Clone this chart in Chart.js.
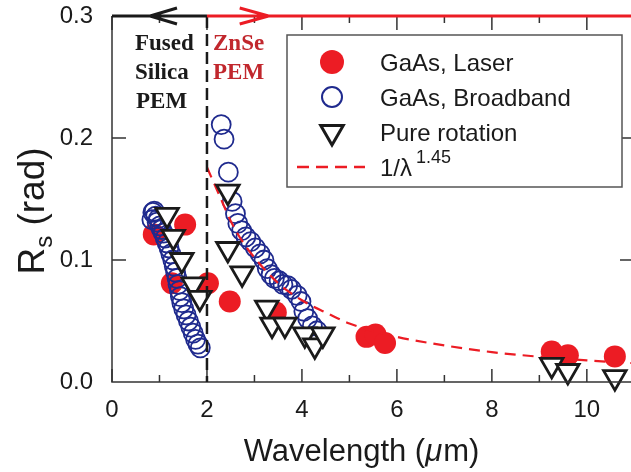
<!DOCTYPE html>
<html>
<head>
<meta charset="utf-8">
<title>Rs vs wavelength</title>
<script src="https://cdn.jsdelivr.net/npm/chart.js@4.4.1/dist/chart.umd.min.js"></script>
<style>
    html, body { margin: 0; padding: 0; background: #fff; }
    #wrap { width: 631px; height: 472px; }
</style>
</head>
<body>
<div id="wrap"><canvas id="rsChart"></canvas></div>
<script>
// GaAs, Laser (filled red)
const laserX = [0.88, 1.26, 1.54, 2.02, 2.48, 3.45, 5.36, 5.55, 5.75, 9.26, 9.6, 10.59];
const laserY = [0.121, 0.081, 0.129, 0.081, 0.066, 0.057, 0.037, 0.039, 0.032, 0.025, 0.022, 0.021];

// GaAs, Broadband (open blue circles)
const broadX = [0.84, 0.86, 0.89, 0.92, 0.95, 0.98, 1.01, 1.04, 1.08, 1.12, 1.16, 1.2, 1.24, 1.28, 1.31,
    1.34, 1.37, 1.39, 1.42, 1.44, 1.47, 1.51, 1.56, 1.61, 1.66, 1.71, 1.76, 1.81, 1.86,
    2.30, 2.36, 2.45, 2.53, 2.60, 2.65, 2.73, 2.82, 2.92, 3.02, 3.12, 3.20, 3.27, 3.35, 3.42,
    3.52, 3.60, 3.70, 3.78, 3.90, 3.98, 4.04, 4.12, 4.22, 4.32];
const broadY = [0.133, 0.139, 0.140, 0.136, 0.131, 0.134, 0.128, 0.125, 0.122, 0.118, 0.114, 0.110, 0.105, 0.100, 0.095,
    0.090, 0.085, 0.080, 0.075, 0.070, 0.065, 0.060, 0.055, 0.050, 0.045, 0.040, 0.035, 0.031, 0.028,
    0.211, 0.199, 0.172, 0.148, 0.138, 0.130, 0.124, 0.119, 0.115, 0.110, 0.105, 0.100, 0.093, 0.088, 0.085,
    0.083, 0.080, 0.079, 0.076, 0.071, 0.066, 0.058, 0.052, 0.046, 0.042];

// Pure rotation (open triangles)
const rotX = [1.16, 1.29, 1.47, 1.71, 1.85, 2.44, 2.44, 2.74, 3.26, 3.37, 3.64, 4.06, 4.27, 4.44, 9.26, 9.6, 10.59];
const rotY = [0.137, 0.119, 0.100, 0.080, 0.069, 0.156, 0.109, 0.089, 0.061, 0.047, 0.047, 0.039, 0.030, 0.039, 0.014, 0.009, 0.004];

// 1/lambda^1.45 curve
const fitX = [2.0, 2.25, 2.5, 2.75, 3, 3.5, 4, 4.5, 5, 6, 7, 8, 9, 10, 11];
const fitY = [0.176, 0.154, 0.132, 0.115, 0.102, 0.081, 0.067, 0.057, 0.048, 0.037, 0.030, 0.0245, 0.0207, 0.0177, 0.0154];

const xTickValues = [0, 2, 4, 6, 8, 10];
const xMinorValues = [1, 3, 5, 7, 9];
const yTickValues = [0, 0.1, 0.2, 0.3];

const RED = '#ec1c24';
const BLUE = '#1f2a8e';
const DARK = '#1a1a1a';
const SANS = '"Liberation Sans", Arial, sans-serif';
const SERIF = '"Liberation Serif", "Times New Roman", serif';

function toPoints(xs, ys) {
    return xs.map((x, i) => ({ x: x, y: ys[i] }));
}

const decorPlugin = {
    id: 'decor',
    afterDatasetsDraw(chart) {
        const ctx = chart.ctx;
        const a = chart.chartArea;
        const xs = chart.scales.x;
        const ys = chart.scales.y;
        ctx.save();

        // left and bottom axis lines
        ctx.strokeStyle = '#333';
        ctx.lineWidth = 1.5;
        ctx.beginPath();
        ctx.moveTo(a.left, a.top);
        ctx.lineTo(a.left, a.bottom);
        ctx.lineTo(a.right, a.bottom);
        ctx.stroke();

        // inward ticks
        ctx.lineWidth = 1.5;
        ctx.beginPath();
        xTickValues.forEach(v => {
            const px = xs.getPixelForValue(v);
            ctx.moveTo(px, a.bottom); ctx.lineTo(px, a.bottom - 13);
            ctx.moveTo(px, a.top); ctx.lineTo(px, a.top + 14);
        });
        xMinorValues.forEach(v => {
            const px = xs.getPixelForValue(v);
            ctx.moveTo(px, a.bottom); ctx.lineTo(px, a.bottom - 7);
            ctx.moveTo(px, a.top); ctx.lineTo(px, a.top + 7);
        });
        [0.1, 0.2].forEach(v => {
            const py = ys.getPixelForValue(v);
            ctx.moveTo(a.left, py); ctx.lineTo(a.left + 14, py);
            ctx.moveTo(a.right, py); ctx.lineTo(a.right - 11, py);
        });
        ctx.stroke();

        // vertical dashed divider at 2 um
        const x2 = xs.getPixelForValue(2);
        ctx.strokeStyle = DARK;
        ctx.lineWidth = 2.5;
        ctx.setLineDash([12, 6]);
        ctx.beginPath();
        ctx.moveTo(x2, a.top);
        ctx.lineTo(x2, a.bottom);
        ctx.stroke();
        ctx.setLineDash([]);

        // top line: black to the left, red to the right, with arrow heads
        ctx.lineWidth = 3;
        ctx.strokeStyle = DARK;
        ctx.beginPath();
        ctx.moveTo(a.left, a.top);
        ctx.lineTo(x2, a.top);
        const tipL = xs.getPixelForValue(0.8);
        ctx.moveTo(tipL + 27, a.top - 8);
        ctx.lineTo(tipL, a.top);
        ctx.lineTo(tipL + 27, a.top + 8);
        ctx.stroke();

        ctx.strokeStyle = RED;
        ctx.beginPath();
        ctx.moveTo(x2, a.top);
        ctx.lineTo(chart.width + 5, a.top);
        const tipR = xs.getPixelForValue(3.3);
        ctx.moveTo(tipR - 29, a.top - 8);
        ctx.lineTo(tipR, a.top);
        ctx.lineTo(tipR - 29, a.top + 8);
        ctx.stroke();

        // region labels
        ctx.font = 'bold 23px ' + SERIF;
        ctx.textAlign = 'left';
        ctx.textBaseline = 'alphabetic';
        ctx.fillStyle = DARK;
        ctx.fillText('Fused', 135, 50);
        ctx.fillText('Silica', 135, 79);
        ctx.fillText('PEM', 136, 108);
        ctx.fillStyle = '#c1272d';
        ctx.fillText('ZnSe', 213, 50);
        ctx.fillText('PEM', 213, 79);

        ctx.restore();
    },
    afterDraw(chart) {
        const ctx = chart.ctx;
        ctx.save();

        // axis titles
        ctx.fillStyle = DARK;
        ctx.textBaseline = 'alphabetic';
        ctx.textAlign = 'left';
        ctx.font = '31px ' + SANS;
        const t1 = 'Wavelength (';
        const t2 = '\u03bc';
        const t3 = 'm)';
        const w1 = ctx.measureText(t1).width;
        ctx.font = 'italic 31px ' + SANS;
        const w2 = ctx.measureText(t2).width;
        ctx.font = '31px ' + SANS;
        const w3 = ctx.measureText(t3).width;
        let tx = 361 - (w1 + w2 + w3) / 2;
        ctx.fillText(t1, tx, 461);
        ctx.font = 'italic 31px ' + SANS;
        ctx.fillText(t2, tx + w1, 461);
        ctx.font = '31px ' + SANS;
        ctx.fillText(t3, tx + w1 + w2 + 1, 461);

        ctx.translate(44, 211);
        ctx.rotate(-Math.PI / 2);
        ctx.font = '37px ' + SANS;
        const wR = ctx.measureText('R').width;
        ctx.font = '24px ' + SANS;
        const wS = ctx.measureText('s').width;
        ctx.font = '37px ' + SANS;
        const wRad = ctx.measureText(' (rad)').width;
        let ry = -(wR + wS + wRad) / 2;
        ctx.fillText('R', ry, 0);
        ctx.font = '24px ' + SANS;
        ctx.fillText('s', ry + wR, 8);
        ctx.font = '37px ' + SANS;
        ctx.fillText(' (rad)', ry + wR + wS, 0);
        ctx.setTransform(1, 0, 0, 1, 0, 0);

        // legend box
        ctx.fillStyle = '#fff';
        ctx.strokeStyle = '#555';
        ctx.lineWidth = 1.5;
        ctx.fillRect(287, 35, 335, 152);
        ctx.strokeRect(287, 35, 335, 152);

        const mx = 332;
        const rows = [62, 97, 132, 167];
        ctx.fillStyle = RED;
        ctx.strokeStyle = RED;
        Chart.helpers.drawPoint(ctx, { pointStyle: 'circle', radius: 12, borderWidth: 0, rotation: 0 }, mx, rows[0]);
        ctx.fillStyle = 'rgba(0,0,0,0)';
        ctx.strokeStyle = BLUE;
        ctx.lineWidth = 2;
        Chart.helpers.drawPoint(ctx, { pointStyle: 'circle', radius: 10, borderWidth: 2, rotation: 0 }, mx, rows[1]);
        ctx.fillStyle = '#fff';
        ctx.strokeStyle = DARK;
        ctx.lineWidth = 3;
        Chart.helpers.drawPoint(ctx, { pointStyle: 'triangle', radius: 13, borderWidth: 3, rotation: 180 }, mx, rows[2]);

        ctx.strokeStyle = RED;
        ctx.lineWidth = 2.5;
        ctx.setLineDash([12, 7]);
        ctx.beginPath();
        ctx.moveTo(297, rows[3]);
        ctx.lineTo(365, rows[3]);
        ctx.stroke();
        ctx.setLineDash([]);

        ctx.fillStyle = DARK;
        ctx.font = '24px ' + SANS;
        ctx.textAlign = 'left';
        ctx.fillText('GaAs, Laser', 380, rows[0] + 9);
        ctx.fillText('GaAs, Broadband', 380, rows[1] + 9);
        ctx.fillText('Pure rotation', 380, rows[2] + 9);
        ctx.fillText('1/\u03bb', 380, rows[3] + 9);
        const wl = ctx.measureText('1/\u03bb').width;
        ctx.font = '18px ' + SANS;
        ctx.fillText('1.45', 380 + wl + 4, rows[3] - 4);

        ctx.restore();
    }
};

document.addEventListener('DOMContentLoaded', () => {
    function initRsChart() {
        const canvas = document.getElementById('rsChart');
        if (!canvas) {
            return;
        }

        new Chart(canvas, {
            type: 'scatter',
            data: {
                datasets: [{
                    label: 'GaAs, Laser',
                    data: toPoints(laserX, laserY),
                    pointStyle: 'circle',
                    pointRadius: 11,
                    backgroundColor: RED,
                    borderColor: RED,
                    borderWidth: 0,
                    clip: false,
                    order: 3,
                }, {
                    label: 'GaAs, Broadband',
                    data: toPoints(broadX, broadY),
                    pointStyle: 'circle',
                    pointRadius: 9.5,
                    backgroundColor: 'rgba(0,0,0,0)',
                    borderColor: BLUE,
                    borderWidth: 1.8,
                    clip: false,
                    order: 2,
                }, {
                    label: 'Pure rotation',
                    data: toPoints(rotX, rotY),
                    pointStyle: 'triangle',
                    rotation: 180,
                    pointRadius: 13,
                    backgroundColor: '#fff',
                    borderColor: DARK,
                    borderWidth: 2.8,
                    clip: false,
                    order: 0,
                }, {
                    type: 'line',
                    label: '1/\u03bb^1.45',
                    data: toPoints(fitX, fitY),
                    borderColor: RED,
                    borderWidth: 2.2,
                    borderDash: [11, 7],
                    pointRadius: 0,
                    cubicInterpolationMode: 'monotone',
                    fill: false,
                    clip: false,
                    order: 1,
                }]
            },
            options: {
                responsive: true,
                maintainAspectRatio: false,
                animation: false,
                devicePixelRatio: 1,
                events: [],
                layout: {
                    autoPadding: false,
                    padding: { left: 0, top: 16, right: 0, bottom: 0 }
                },
                scales: {
                    x: {
                        type: 'linear',
                        min: 0,
                        max: 10.93,
                        // tick marks themselves are drawn inward by the plugin;
                        // tickLength only offsets the labels
                        grid: { display: false, drawTicks: true, tickLength: 14 },
                        border: { display: false },
                        afterBuildTicks: (scale) => {
                            scale.ticks = xTickValues.map(v => ({ value: v }));
                        },
                        afterFit: (scale) => {
                            scale.height = 90;
                        },
                        ticks: {
                            color: DARK,
                            padding: 0,
                            font: { family: SANS, size: 24 },
                            callback: (value) => String(value)
                        }
                    },
                    y: {
                        min: 0,
                        max: 0.3,
                        grid: { display: false, drawTicks: true, tickLength: 19 },
                        border: { display: false },
                        afterBuildTicks: (scale) => {
                            scale.ticks = yTickValues.map(v => ({ value: v }));
                        },
                        afterFit: (scale) => {
                            scale.width = 112;
                        },
                        ticks: {
                            color: DARK,
                            padding: 0,
                            font: { family: SANS, size: 24 },
                            callback: (value) => Number(value).toFixed(1)
                        }
                    }
                },
                plugins: {
                    legend: { display: false },
                    tooltip: { enabled: false }
                }
            },
            plugins: [decorPlugin]
        });
    }

    initRsChart();
});
</script>
</body>
</html>
